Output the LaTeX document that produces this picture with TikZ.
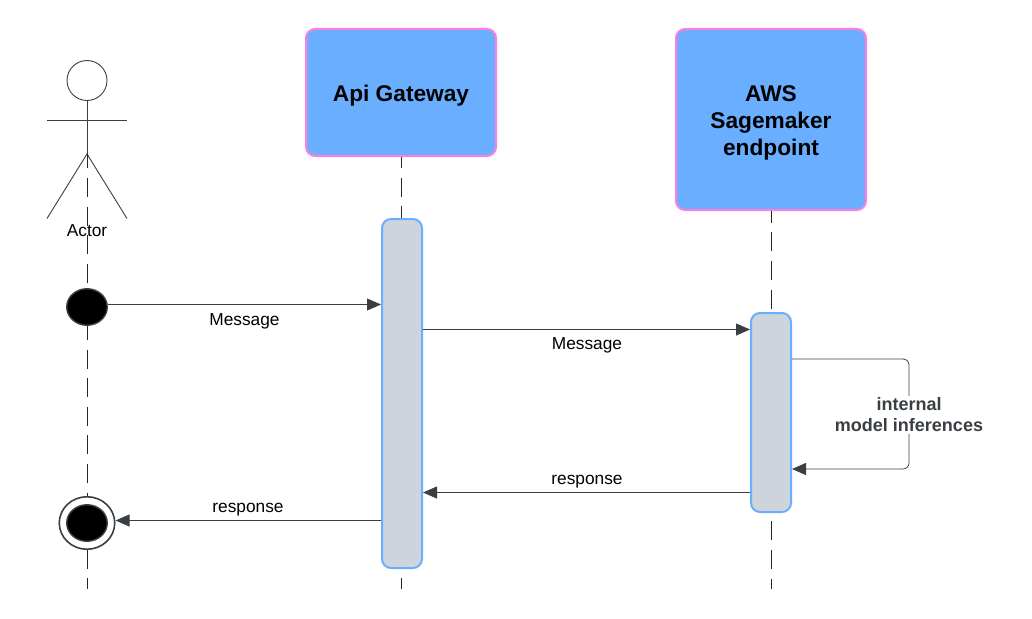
\documentclass[tikz,border=0pt]{standalone}
\usepackage{fontspec}
\setmainfont{Liberation Sans}
\usetikzlibrary{arrows.meta,shapes.geometric}
\definecolor{boxblue}{HTML}{6AAEFF}
\definecolor{boxpink}{HTML}{FF7FDD}
\definecolor{barfill}{HTML}{CDD4DC}
\definecolor{darkline}{HTML}{3A3F44}
\tikzset{
  boxnode/.style={draw=boxpink, fill=boxblue, line width=2pt, rounded corners=9pt, minimum width=190pt},
  boxlabel/.style={align=center, inner sep=0pt, font=\fontsize{22.7}{27}\selectfont\bfseries},
  barnode/.style={draw=boxblue, fill=barfill, line width=2pt, rounded corners=9pt, minimum width=40pt},
  lifeline/.style={black!85, line width=0.8pt, dash pattern=on 19pt off 9.6pt},
  msg/.style={darkline, line width=0.8pt, -{Triangle[length=14pt,width=12pt]}},
  msglabel/.style={font=\fontsize{17.3}{20}\selectfont, inner sep=0pt},
  stick/.style={darkline, line width=0.9pt},
  dotnode/.style={ellipse, draw=darkline, fill=black, line width=1.4pt, minimum width=40.5pt, minimum height=36.5pt, inner sep=0pt}
}
\begin{document}
\begin{tikzpicture}[x=1pt,y=-1pt]
\useasboundingbox (0,0) rectangle (1032,618);
% participants
\node [boxnode, minimum height=127pt] (gateway) at (401,92.5) {};
\node [boxnode, minimum height=181pt] (sagemaker) at (771,119.5) {};
\node [boxlabel] (gatewaytext) at (401,96) {Api Gateway};
\node [boxlabel] (sagemakertext) at (771,122.5) {AWS\\Sagemaker\\endpoint};
% actor
\node [draw=darkline, line width=0.9pt, circle, minimum size=40pt, inner sep=0pt] (head) at (87,80.5) {};
\coordinate (hip) at (87,154);
\coordinate (shoulderL) at (47,120);
\coordinate (shoulderR) at (127,120);
\coordinate (footL) at (47,218.5);
\coordinate (footR) at (127,218.5);
\coordinate (actorend) at (87,589);
\coordinate (gatewayend) at (401.5,589);
\coordinate (sagemakerend) at (771.5,589);
\draw [stick] (head.south) -- (hip);
\draw [stick] (shoulderL) -- (shoulderR);
\draw [stick] (footL) -- (hip) -- (footR);
% lifelines
\draw [lifeline, dash phase=4.7pt] (hip) -- (actorend);
\draw [lifeline, dash phase=8pt] (gateway.south -| gatewayend) -- (gatewayend);
\draw [lifeline, dash pattern=on 19pt off 9.9pt, dash phase=7.5pt] (sagemaker.south -| sagemakerend) -- (sagemakerend);
\node [msglabel] (actorlabel) at (87,230.5) {Actor};
% activation bars
\node [barnode, minimum height=349pt] (gatewaybar) at (402,393.5) {};
\node [barnode, minimum height=199pt] (sagemakerbar) at (771,412.5) {};
% start and end
\node [dotnode] (start) at (87,307) {};
\node [ellipse, draw=darkline, fill=white, line width=1.6pt, minimum width=55.5pt, minimum height=52.5pt, inner sep=0pt] (finish) at (87,523) {};
\node [dotnode] (finishdot) at (87,523) {};
% messages
\coordinate (m1) at (0,304.5);
\coordinate (m2) at (0,329.5);
\coordinate (m3) at (0,492.5);
\coordinate (m4) at (0,520.5);
\coordinate (loopA) at (909,359);
\coordinate (loopB) at (909,469);
\draw [msg] (start.east |- m1) -- (gatewaybar.west |- m1);
\draw [msg] (gatewaybar.east |- m2) -- (sagemakerbar.west |- m2);
\draw [msg] (sagemakerbar.west |- m3) -- (gatewaybar.east |- m3);
\draw [msg] (gatewaybar.west |- m4) -- (finish.east |- m4);
\draw [msg, rounded corners=6pt] (sagemakerbar.east |- loopA) -- (loopA) -- (loopB) -- (sagemakerbar.east |- loopB);
% labels
\node [msglabel] (label1) at (244.5,321) {Message};
\node [msglabel] (label2) at (587,345.5) {Message};
\node [msglabel] (label3) at (587,481.5) {response};
\node [msglabel] (label4) at (248,509.5) {response};
\node [fill=white, inner sep=2pt, align=center, text=darkline, font=\fontsize{18}{21}\selectfont\bfseries] (label5) at (909,415) {internal\\model inferences};
\end{tikzpicture}
\end{document}
